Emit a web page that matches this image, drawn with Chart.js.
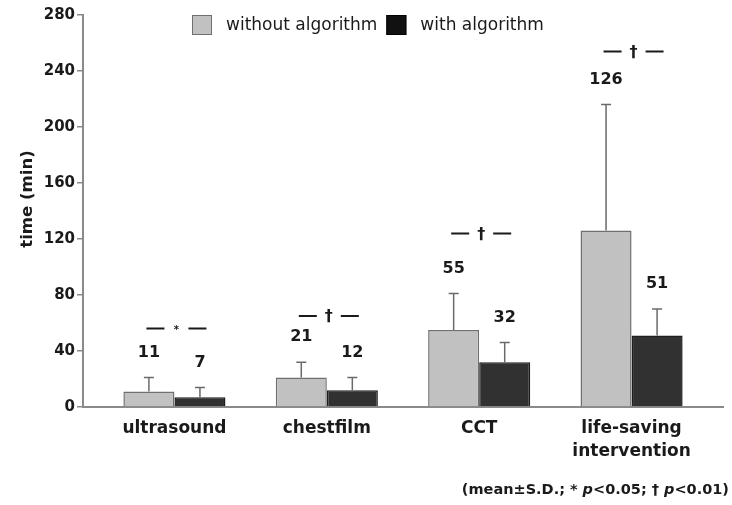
<!DOCTYPE html>
<html>
<head>
<meta charset="utf-8">
<script src="https://cdn.jsdelivr.net/npm/chart.js@4.4.1/dist/chart.umd.min.js"></script>
<style>
  html, body { margin: 0; padding: 0; background: #ffffff; }
  #wrap { width: 732px; height: 505px; }
</style>
</head>
<body>
<div id="wrap"><canvas id="c" width="732" height="505"></canvas></div>
<script>
// ---- data ----
const categories = ['ultrasound', 'chestfilm', 'CCT', 'life-saving intervention'];
const tickLabels = [['ultrasound'], ['chestfilm'], ['CCT'], ['life-saving', 'intervention']];
const withoutMean = [11, 21, 55, 126];
const withoutSD   = [10, 11, 26, 90];
const withMean    = [7, 12, 32, 51];
const withSD      = [7, 9, 14, 19];
const sigSymbols  = ['*', '\u2020', '\u2020', '\u2020'];
const sigLevel    = [56, 65, 124, 254];
const seriesNames = ['without algorithm', 'with algorithm'];
const footnoteParts = [
  ['(mean\u00B1S.D.; * ', false], ['p', true], ['<0.05; \u2020 ', false], ['p', true], ['<0.01)', false]
];

const FAMILY = "'DejaVu Sans', 'Liberation Sans', Arial, sans-serif";
Chart.defaults.font.family = FAMILY;

const colors = {
  light: '#c1c1c1', lightBorder: '#6f6f6f',
  dark: '#313131', darkBorder: '#1e1e1e',
  axis: '#8a8a8a', text: '#1a1a1a', err: '#6a6a6a'
};

const overlay = {
  id: 'overlay',
  afterDatasetsDraw(chart) {
    const ctx = chart.ctx;
    const xs = chart.scales.x, ys = chart.scales.y;
    const means = [withoutMean, withMean];
    const sds = [withoutSD, withSD];
    ctx.save();
    // error bars + value labels
    for (let d = 0; d < 2; d++) {
      const meta = chart.getDatasetMeta(d);
      meta.data.forEach((el, i) => {
        const x = el.x;
        const yTop = ys.getPixelForValue(means[d][i]);
        const yErr = ys.getPixelForValue(means[d][i] + sds[d][i]);
        ctx.strokeStyle = colors.err;
        ctx.lineWidth = 1.5;
        ctx.beginPath();
        ctx.moveTo(x, yTop);
        ctx.lineTo(x, yErr);
        ctx.moveTo(x - 5, yErr);
        ctx.lineTo(x + 5, yErr);
        ctx.stroke();
        ctx.fillStyle = colors.text;
        ctx.font = 'bold 16px ' + FAMILY;
        ctx.textAlign = 'center';
        ctx.textBaseline = 'middle';
        ctx.fillText(String(means[d][i]), x, yErr - 25);
      });
    }
    // significance markers
    categories.forEach((c, i) => {
      const cx = xs.getPixelForValue(i) + 2;
      const cy = ys.getPixelForValue(sigLevel[i]);
      ctx.strokeStyle = '#1a1a1a';
      ctx.lineWidth = 2;
      ctx.beginPath();
      ctx.moveTo(cx - 30, cy); ctx.lineTo(cx - 12, cy);
      ctx.moveTo(cx + 12, cy); ctx.lineTo(cx + 30, cy);
      ctx.stroke();
      ctx.fillStyle = colors.text;
      ctx.textAlign = 'center';
      ctx.textBaseline = 'middle';
      if (sigSymbols[i] === '*') {
        ctx.font = 'bold 10px ' + FAMILY;
        ctx.fillText(sigSymbols[i], cx, cy + 2);
      } else {
        ctx.font = 'bold 16px ' + FAMILY;
        ctx.fillText(sigSymbols[i], cx, cy + 1);
      }
    });
    ctx.restore();
  },
  afterDraw(chart) {
    const ctx = chart.ctx;
    ctx.save();
    // legend
    ctx.font = '17px ' + FAMILY;
    ctx.textBaseline = 'middle';
    ctx.textAlign = 'left';
    let lx = 192;
    const ly = 15;
    const fills = [[colors.light, colors.lightBorder], ['#111111', '#000000']];
    seriesNames.forEach((name, k) => {
      ctx.fillStyle = fills[k][0];
      ctx.fillRect(lx, ly, 20, 20);
      ctx.strokeStyle = fills[k][1];
      ctx.lineWidth = 1;
      ctx.strokeRect(lx + 0.5, ly + 0.5, 19, 19);
      ctx.fillStyle = colors.text;
      ctx.fillText(name, lx + 34, ly + 11);
      lx += 34 + ctx.measureText(name).width + 9;
    });
    // y axis title
    ctx.save();
    ctx.translate(28, 199);
    ctx.rotate(-Math.PI / 2);
    ctx.font = 'bold 16.5px ' + FAMILY;
    ctx.textAlign = 'center';
    ctx.textBaseline = 'middle';
    ctx.fillStyle = colors.text;
    ctx.fillText('time (min)', 0, 0);
    ctx.restore();
    // footnote (right aligned)
    const fsize = 14.5;
    let total = 0;
    footnoteParts.forEach(([t, it]) => {
      ctx.font = (it ? 'italic ' : '') + 'bold ' + fsize + 'px ' + FAMILY;
      total += ctx.measureText(t).width;
    });
    let fx = 729 - total;
    ctx.textAlign = 'left';
    ctx.textBaseline = 'middle';
    ctx.fillStyle = colors.text;
    footnoteParts.forEach(([t, it]) => {
      ctx.font = (it ? 'italic ' : '') + 'bold ' + fsize + 'px ' + FAMILY;
      ctx.fillText(t, fx, 490);
      fx += ctx.measureText(t).width;
    });
    ctx.restore();
  }
};

new Chart(document.getElementById('c'), {
  type: 'bar',
  data: {
    datasets: [
      {
        label: seriesNames[0],
        data: withoutMean.map((v, i) => ({ x: i, y: v })),
        backgroundColor: colors.light,
        borderColor: colors.lightBorder,
        borderWidth: 1.5,
        categoryPercentage: 0.67,
        barPercentage: 1.0
      },
      {
        label: seriesNames[1],
        data: withMean.map((v, i) => ({ x: i, y: v })),
        backgroundColor: colors.dark,
        borderColor: colors.darkBorder,
        borderWidth: 1.5,
        categoryPercentage: 0.67,
        barPercentage: 1.0
      }
    ]
  },
  options: {
    responsive: false,
    animation: false,
    devicePixelRatio: 1,
    layout: { padding: { top: 15, right: 9, left: 0, bottom: 0 } },
    plugins: { legend: { display: false }, tooltip: { enabled: false } },
    scales: {
      x: {
        type: 'linear',
        min: -0.6,
        max: 3.6,
        offset: false,
        afterBuildTicks: (s) => { s.ticks = categories.map((c, i) => ({ value: i })); },
        afterFit: (s) => { s.height = 98; },
        ticks: {
          autoSkip: false,
          maxRotation: 0,
          padding: 10,
          color: colors.text,
          font: { size: 17, weight: 'bold', lineHeight: 1.35 },
          callback: (v) => tickLabels[v]
        },
        grid: { display: true, drawOnChartArea: false, drawTicks: false, offset: false },
        border: { display: true, color: colors.axis, width: 2 }
      },
      y: {
        min: 0,
        max: 280,
        afterFit: (s) => { s.width = 83; },
        ticks: {
          stepSize: 40,
          padding: 2,
          color: colors.text,
          font: { size: 15, weight: 'bold' }
        },
        grid: { drawOnChartArea: false, drawTicks: true, tickLength: 6, color: colors.axis, lineWidth: 1.5 },
        border: { display: true, color: colors.axis, width: 2 }
      }
    }
  },
  plugins: [overlay]
});
</script>
</body>
</html>
